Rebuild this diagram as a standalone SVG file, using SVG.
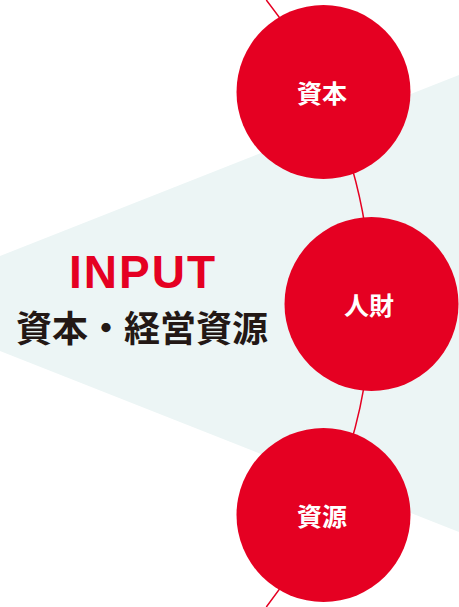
<svg xmlns="http://www.w3.org/2000/svg" width="459" height="607" viewBox="0 0 459 607">
<style>
.node{fill:#e50022}
.lbl{font-family:"Noto Sans CJK JP","Noto Sans",sans-serif;font-weight:700;font-size:25px;fill:#ffffff;text-anchor:middle}
.conn{fill:none;stroke:#e50022;stroke-width:1.5}
</style>
<rect width="459" height="607" fill="#ffffff"/>
<polygon id="wedge" points="0,256 459,75 459,532 0,351" fill="#ecf5f5"/>
<g id="connectors">
<path class="conn" d="M266.3,0 A492,492 0 0 1 266.3,607"/>
</g>
<g id="title">
<text x="143" y="288" font-family="Liberation Sans,Arial,sans-serif" font-weight="700" font-size="46" letter-spacing="2" fill="#e50022" text-anchor="middle">INPUT</text>
<text x="142" y="342" font-family="Noto Sans CJK JP,sans-serif" font-weight="700" font-size="36" fill="#231815" text-anchor="middle">資本・経営資源</text>
</g>
<g id="node-shihon">
<circle class="node" cx="323.5" cy="92" r="87"/>
<text class="lbl" x="322" y="103">資本</text>
</g>
<g id="node-jinzai">
<circle class="node" cx="371.5" cy="304" r="87"/>
<text class="lbl" x="369" y="315">人財</text>
</g>
<g id="node-shigen">
<circle class="node" cx="323.5" cy="515" r="87"/>
<text class="lbl" x="322" y="526">資源</text>
</g>
</svg>
